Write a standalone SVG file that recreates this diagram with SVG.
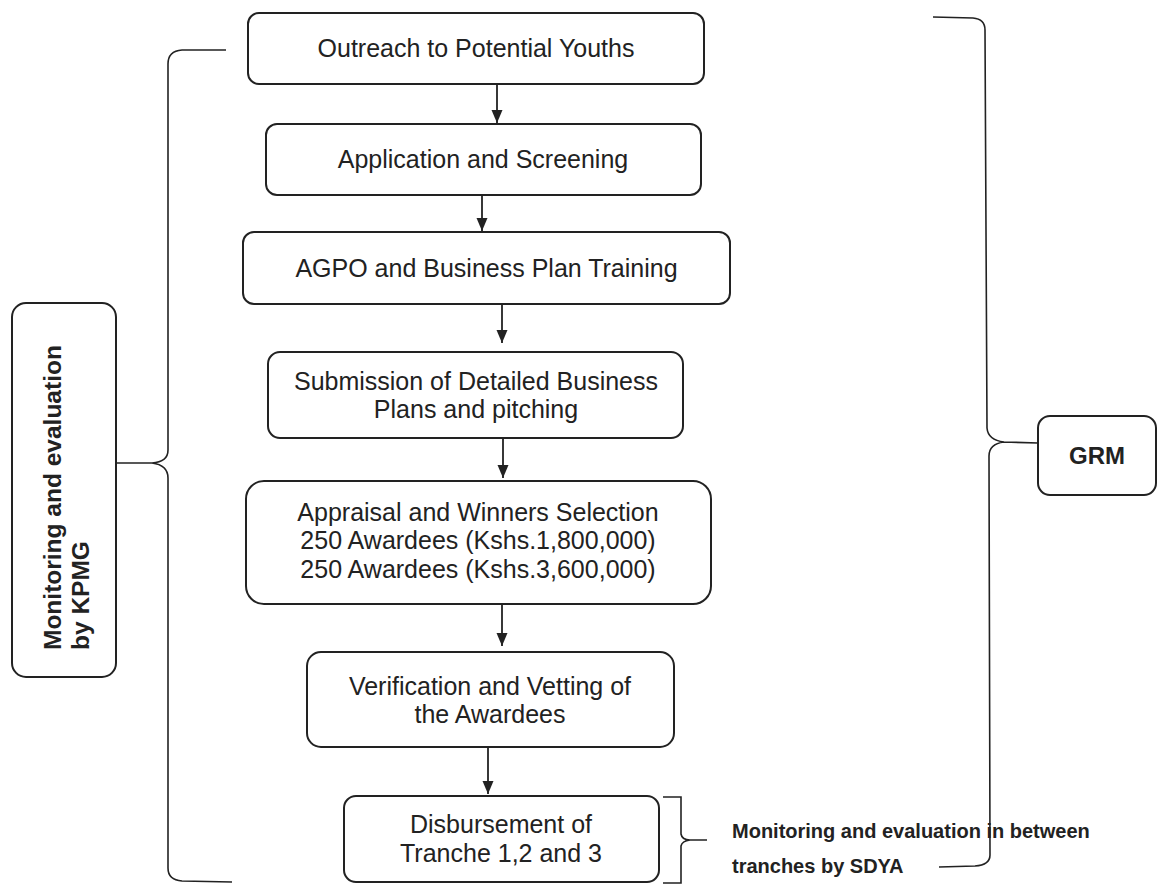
<svg xmlns="http://www.w3.org/2000/svg" width="1158" height="884" viewBox="0 0 1158 884">
<style>
  .box{fill:#fff;stroke:#222;stroke-width:2}
  .t{font-family:"Liberation Sans",Arial,sans-serif;font-size:25px;fill:#222;text-anchor:middle}
  .b{font-family:"Liberation Sans",Arial,sans-serif;font-weight:bold;fill:#222}
  .ln{fill:none;stroke:#222;stroke-width:1.8}
  .br{fill:none;stroke:#222;stroke-width:1.6}
</style>
<defs>
  <marker id="ah" markerUnits="userSpaceOnUse" markerWidth="14" markerHeight="12" refX="13" refY="5.5" orient="auto">
    <path d="M0,0 L13,5.5 L0,11 z" fill="#222"/>
  </marker>
</defs>
<rect width="1158" height="884" fill="#fff"/>

<g id="n1"><rect class="box" x="248" y="13" width="456" height="71" rx="11"/><text class="t" x="476" y="57">Outreach to Potential Youths</text></g>
<g id="n2"><rect class="box" x="266" y="124" width="435" height="71" rx="11"/><text class="t" x="483" y="168">Application and Screening</text></g>
<g id="n3"><rect class="box" x="243" y="232" width="487" height="72" rx="11"/><text class="t" x="486.5" y="277">AGPO and Business Plan Training</text></g>
<g id="n4"><rect class="box" x="268" y="352" width="415" height="86" rx="12"/><text class="t" x="476" y="390">Submission of Detailed Business</text><text class="t" x="476" y="418">Plans and pitching</text></g>
<g id="n5"><rect class="box" x="246" y="481" width="465" height="123" rx="18"/><text class="t" x="478" y="521">Appraisal and Winners Selection</text><text class="t" x="478" y="549">250 Awardees (Kshs.1,800,000)</text><text class="t" x="478" y="578">250 Awardees (Kshs.3,600,000)</text></g>
<g id="n6"><rect class="box" x="307" y="652" width="367" height="95" rx="14"/><text class="t" x="490" y="695">Verification and Vetting of</text><text class="t" x="490" y="723">the Awardees</text></g>
<g id="n7"><rect class="box" x="344" y="796" width="315" height="86" rx="12"/><text class="t" x="501" y="833">Disbursement of</text><text class="t" x="501" y="862">Tranche 1,2 and 3</text></g>

<g id="kpmg"><rect class="box" x="12" y="303" width="104" height="374" rx="14"/>
  <text class="b" font-size="24.5" transform="translate(61,650) rotate(-90)">Monitoring and evaluation</text>
  <text class="b" font-size="24.5" transform="translate(89,650) rotate(-90)">by KPMG</text>
</g>
<g id="grm"><rect class="box" x="1038" y="416" width="118" height="79" rx="12"/><text class="b" font-size="24" x="1097" y="464" text-anchor="middle">GRM</text></g>
<g id="sdya">
  <text class="b" font-size="20" x="732" y="838">Monitoring and evaluation in between</text>
  <text class="b" font-size="20" x="732" y="873">tranches by SDYA</text>
</g>

<g id="connectors">
  <line class="ln" x1="497" y1="84" x2="497" y2="123" marker-end="url(#ah)"/>
  <line class="ln" x1="482" y1="195" x2="482" y2="231" marker-end="url(#ah)"/>
  <line class="ln" x1="502" y1="304" x2="502" y2="343" marker-end="url(#ah)"/>
  <line class="ln" x1="503" y1="438" x2="503" y2="478" marker-end="url(#ah)"/>
  <line class="ln" x1="502" y1="604" x2="502" y2="646" marker-end="url(#ah)"/>
  <line class="ln" x1="488" y1="747" x2="488" y2="794" marker-end="url(#ah)"/>
  <!-- left brace -->
  <path class="br" d="M226,50 L182,50 Q168,51 168,64 L168,450 Q168,462 152,463 L117,463 M152,463 Q168,465 168,478 L168,868 Q168,880 182,881 L232,882"/>
  <!-- right brace (GRM) -->
  <path class="br" d="M933,17 L973,18 Q985,19 985,30 L987,428 Q988,440 1004,442 L1038,443 M1004,442 Q989,444 989,456 L990,855 Q990,865 975,866 L939,867"/>
  <!-- small bracket -->
  <path class="br" d="M663,797 L681,797 L681,834 Q682,840 690,840 L707,840 M690,840 Q682,841 681,846 L681,883 L663,883"/>
</g>
</svg>
